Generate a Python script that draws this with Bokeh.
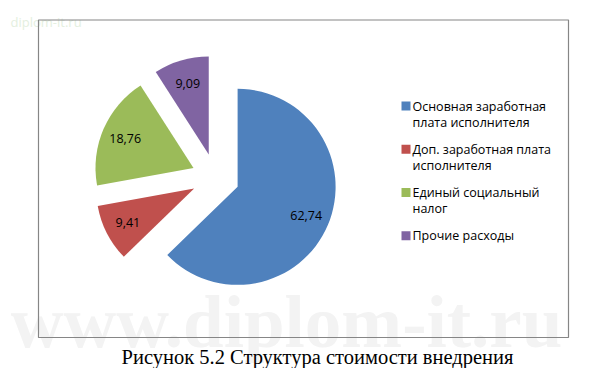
import numpy as np
from bokeh.plotting import figure
from bokeh.models import Range1d
from bokeh.core.properties import value
from bokeh.embed import file_html
from bokeh.resources import INLINE

# ---- data ----
categories = ["Основная заработная плата исполнителя",
              "Доп. заработная плата исполнителя",
              "Единый социальный налог",
              "Прочие расходы"]
legend_lines = [["Основная заработная", "плата исполнителя"],
                ["Доп. заработная плата", "исполнителя"],
                ["Единый социальный", "налог"],
                ["Прочие расходы"]]
values = [62.74, 9.41, 18.76, 9.09]
value_labels = ["62,74", "9,41", "18,76", "9,09"]
colors = ["#4F81BD", "#C0504D", "#9BBB59", "#8064A2"]
caption = "Рисунок 5.2 Структура стоимости внедрения"
watermark_big = "www.diplom-it.ru"
watermark_small = "diplom-it.ru"

# ---- layout helpers (reference pixel -> data) ----
W, H = 581, 368
def X(x):
    return x
def Y(y):
    return H - y

p = figure(width=W, height=H, x_range=Range1d(0, W), y_range=Range1d(0, H),
           output_backend="svg", toolbar_location=None, min_border=0,
           x_axis_type=None, y_axis_type=None)
p.grid.visible = False
p.outline_line_color = None
p.background_fill_color = "white"
p.border_fill_color = "white"

# watermarks
p.text(x=[X(286)], y=[Y(322)], text=[watermark_big], text_font=value("Liberation Serif"),
       text_font_size="73px", text_font_style="bold", text_color="#f3f3f3",
       text_align="center", text_baseline="middle")
p.text(x=[X(10)], y=[Y(21)], text=[watermark_small], text_font=value("Open Sans"),
       text_font_size="13px", text_color="#e4efe0",
       text_align="left", text_baseline="middle")

# chart border
p.quad(left=[X(38)], right=[X(568)], top=[Y(19.5)], bottom=[Y(337)],
       fill_color=None, line_color="#868686", line_width=1.2)

# ---- pie ----
vals = np.array(values, dtype=float)
frac = vals / vals.sum()
cum_end = np.cumsum(frac)
cum_start = cum_end - frac
start = np.pi / 2 - cum_end * 2 * np.pi
end = np.pi / 2 - cum_start * 2 * np.pi
mid = (start + end) / 2

R = 98
explode = 24
C = (X(215), Y(177))
cx = C[0] + explode * np.cos(mid)
cy = C[1] + explode * np.sin(mid)

p.wedge(x=cx, y=cy, radius=R, start_angle=start, end_angle=end,
        fill_color=colors, line_color=None)

lx = cx + 0.76 * R * np.cos(mid)
ly = cy + 0.76 * R * np.sin(mid)
p.text(x=lx, y=ly, text=value_labels, text_font=value("Open Sans"),
       text_font_size="12.5px", text_color="#000000",
       text_align="center", text_baseline="middle")

# ---- legend ----
leg_x = X(405.5)
leg_y0 = Y(105.6)
group_gap = 43.2
line_gap = 16
for i, lines in enumerate(legend_lines):
    gy = leg_y0 - i * group_gap
    p.rect(x=[leg_x], y=[gy], width=9, height=9, width_units="screen",
           height_units="screen", fill_color=colors[i], line_color=None)
    ys = [gy - j * line_gap for j in range(len(lines))]
    p.text(x=[X(412)] * len(lines), y=ys, text=lines, text_font=value("Open Sans"),
           text_font_size="12.5px", text_color="#000000",
           text_align="left", text_baseline="middle")

# caption
p.text(x=[X(317)], y=[Y(356.5)], text=[caption], text_font=value("Liberation Serif"),
       text_font_size="20.5px", text_color="#000000",
       text_align="center", text_baseline="middle")

open("out.html", "w").write(file_html(p, INLINE))
